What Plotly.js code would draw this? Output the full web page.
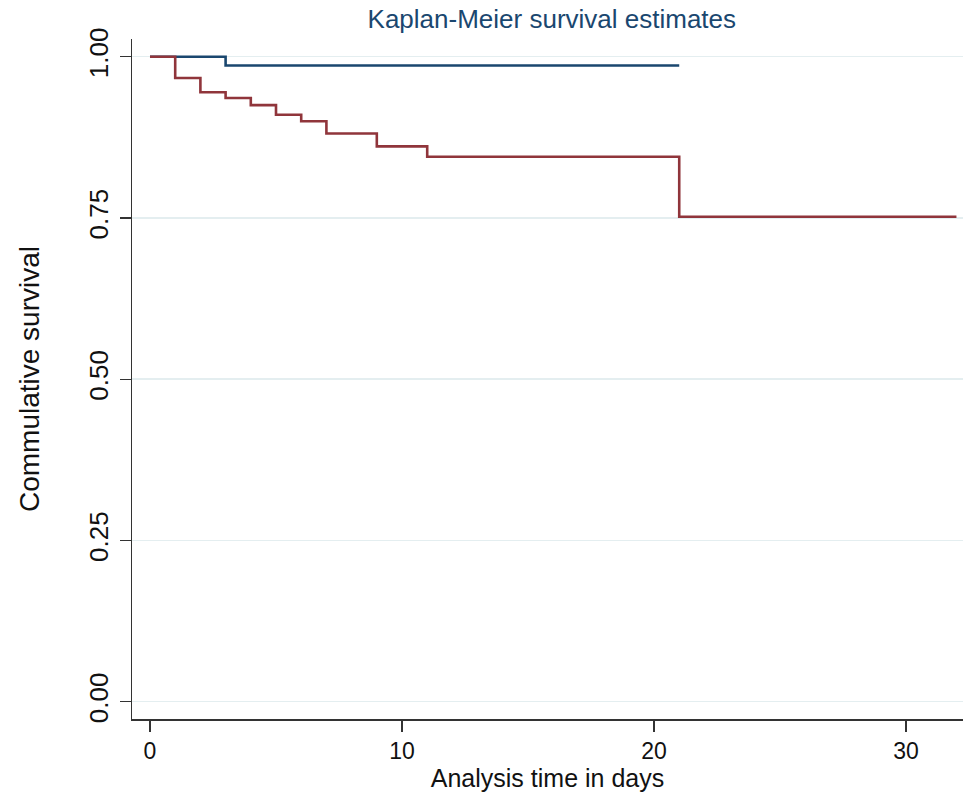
<!DOCTYPE html>
<html>
<head>
<meta charset="utf-8">
<script src="https://cdn.plot.ly/plotly-3.0.1.min.js"></script>
<style>html,body{margin:0;padding:0;background:#fff;}#chart{width:963px;height:792px;}</style>
</head>
<body>
<div id="chart"></div>
<script>
const groupATime = [0, 3, 21];
const groupASurv = [1.0, 0.9865, 0.9865];
const groupBTime = [0, 1, 2, 3, 4, 5, 6, 7, 9, 11, 21, 32];
const groupBSurv = [1.0, 0.967, 0.945, 0.936, 0.925, 0.910, 0.900, 0.881, 0.861, 0.845, 0.752, 0.752];
const yTicks = [0, 0.25, 0.5, 0.75, 1.0];
const yTickLabels = ["0.00", "0.25", "0.50", "0.75", "1.00"];
const xTicks = [0, 10, 20, 30];

const traces = [
  {x: groupATime, y: groupASurv, type: 'scatter', mode: 'lines', line: {shape: 'hv', color: '#1a476f', width: 2.6}, hoverinfo: 'x+y'},
  {x: groupBTime, y: groupBSurv, type: 'scatter', mode: 'lines', line: {shape: 'hv', color: '#90353b', width: 2.6}, hoverinfo: 'x+y'}
];

const layout = {
  width: 963, height: 792,
  margin: {l: 132, r: 0, t: 39, b: 73},
  paper_bgcolor: '#fff', plot_bgcolor: '#fff',
  showlegend: false,
  font: {family: 'Liberation Sans, Arial, sans-serif', color: '#111'},
  title: {text: 'Kaplan-Meier survival estimates', font: {size: 26, color: '#1a476f'}, x: 0.573, xanchor: 'center', y: 0.976, yanchor: 'middle'},
  xaxis: {
    range: [-0.714, 32.26], tickvals: xTicks, ticks: 'outside', ticklen: 11, tickwidth: 1.3, tickcolor: '#333',
    showline: true, linecolor: '#333', linewidth: 1.5, showgrid: false, zeroline: false,
    ticklabelstandoff: 0,
    tickfont: {size: 23, color: '#111'},
    title: {text: 'Analysis time in days', font: {size: 25, color: '#111'}, standoff: 1}
  },
  yaxis: {
    range: [-0.0268, 1.0275], tickvals: yTicks, ticktext: yTickLabels, ticks: 'outside', ticklen: 11, tickwidth: 1.3, tickcolor: '#333',
    tickangle: -90, showline: true, linecolor: '#333', linewidth: 1.5,
    showgrid: true, gridcolor: '#e4eef0', gridwidth: 1.5, zeroline: false,
    ticklabelstandoff: 1,
    tickfont: {size: 26, color: '#111'},
    title: {text: 'Commulative survival', font: {size: 28, color: '#111'}, standoff: 36}
  }
};

Plotly.newPlot('chart', traces, layout, {displayModeBar: false, staticPlot: true});
</script>
</body>
</html>
